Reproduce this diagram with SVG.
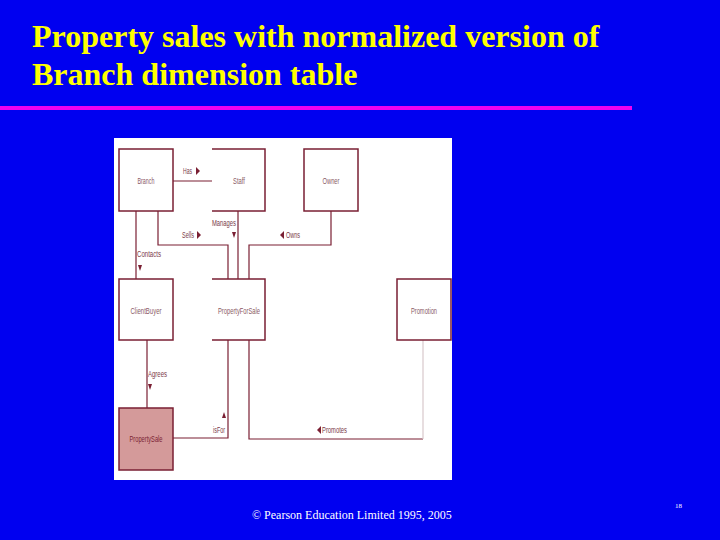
<svg xmlns="http://www.w3.org/2000/svg" width="720" height="540" viewBox="0 0 720 540">
<style>
.title{font-family:"Liberation Serif","Times New Roman",serif;font-weight:bold;font-size:32px;fill:#FFFF00}
.box{fill:#FFFFFF;stroke:#7A1F33;stroke-width:1.5}
.edge{fill:none;stroke:#7A1F33;stroke-width:1.2}
.lbl{font-family:"Liberation Sans",Arial,sans-serif;font-size:9px;fill:#7A3A48}
.nlbl{font-family:"Liberation Sans",Arial,sans-serif;font-size:9px;fill:#8A5A66;text-anchor:middle}
.arr{fill:#7A1F33}
.foot{font-family:"Liberation Serif","Times New Roman",serif;font-size:12px;fill:#FFFFFF}
</style>
<rect x="0" y="0" width="720" height="540" fill="#0000F0"/>
<text class="title" x="32" y="47">Property sales with normalized version of</text>
<text class="title" x="32" y="85">Branch dimension table</text>
<rect x="0" y="106" width="632" height="4" fill="#F000F0"/>
<rect x="114" y="138" width="338" height="342" fill="#FFFFFF"/>

<g id="connectors">
  <path class="edge" d="M173,181 H212"/>
  <path class="edge" d="M136,211 V279"/>
  <path class="edge" d="M158,211 V245 H228 V279"/>
  <path class="edge" d="M238,211 V279"/>
  <path class="edge" d="M331,211 V245 H249 V279"/>
  <path class="edge" d="M147,340 V408"/>
  <path class="edge" d="M173,438 H228 V340"/>
  <path class="edge" d="M249,340 V439 H423"/>
  <path d="M423,439 V340" fill="none" stroke="#D8C8CC" stroke-width="1.2"/>
  <text class="lbl" x="183" y="174" textLength="9" lengthAdjust="spacingAndGlyphs">Has</text>
  <path class="arr" d="M196,167 L200,171 L196,175 Z"/>
  <text class="lbl" x="182" y="238" textLength="12" lengthAdjust="spacingAndGlyphs">Sells</text>
  <path class="arr" d="M197,231 L201,235 L197,239 Z"/>
  <text class="lbl" x="212" y="226" textLength="24" lengthAdjust="spacingAndGlyphs">Manages</text>
  <path class="arr" d="M232,232 L236,232 L234,238 Z"/>
  <text class="lbl" x="286" y="238" textLength="14" lengthAdjust="spacingAndGlyphs">Owns</text>
  <path class="arr" d="M284,231 L280,235 L284,239 Z"/>
  <text class="lbl" x="137" y="257" textLength="24" lengthAdjust="spacingAndGlyphs">Contacts</text>
  <path class="arr" d="M138,265 L142,265 L140,271 Z"/>
  <text class="lbl" x="148" y="377" textLength="19" lengthAdjust="spacingAndGlyphs">Agrees</text>
  <path class="arr" d="M148,384 L152,384 L150,390 Z"/>
  <text class="lbl" x="213" y="433" textLength="12" lengthAdjust="spacingAndGlyphs">isFor</text>
  <path class="arr" d="M222,418 L226,418 L224,412 Z"/>
  <text class="lbl" x="322" y="433" textLength="25" lengthAdjust="spacingAndGlyphs">Promotes</text>
  <path class="arr" d="M321,426 L317,430 L321,434 Z"/>
</g>

<g id="branch"><rect class="box" x="119" y="149" width="54" height="62"/><text class="nlbl" x="146" y="184" textLength="17" lengthAdjust="spacingAndGlyphs">Branch</text></g>
<g id="staff"><path class="box" d="M212,149 H265 V211 H212"/><text class="nlbl" x="239" y="184" textLength="12" lengthAdjust="spacingAndGlyphs">Staff</text></g>
<g id="owner"><rect class="box" x="304" y="149" width="54" height="62"/><text class="nlbl" x="331" y="184" textLength="17" lengthAdjust="spacingAndGlyphs">Owner</text></g>
<g id="clientbuyer"><rect class="box" x="119" y="279" width="54" height="61"/><text class="nlbl" x="146" y="314" textLength="31" lengthAdjust="spacingAndGlyphs">ClientBuyer</text></g>
<g id="propertyforsale"><path class="box" d="M212,279 H265 V340 H212"/><text class="nlbl" x="239" y="314" textLength="42" lengthAdjust="spacingAndGlyphs">PropertyForSale</text></g>
<g id="promotion"><rect class="box" x="397" y="279" width="54" height="61"/><text class="nlbl" x="424" y="314" textLength="26" lengthAdjust="spacingAndGlyphs">Promotion</text></g>
<g id="propertysale"><rect x="119" y="408" width="54" height="62" fill="#D49A9A" stroke="#7A1F33" stroke-width="1.5"/><text class="nlbl" x="146" y="442" textLength="33" lengthAdjust="spacingAndGlyphs" style="fill:#7A1F33">PropertySale</text></g>

<text class="foot" x="252" y="519">© Pearson Education Limited 1995, 2005</text>
<text x="675" y="508" font-family="Liberation Serif, serif" font-size="7" fill="#FFFFFF">18</text>
</svg>
